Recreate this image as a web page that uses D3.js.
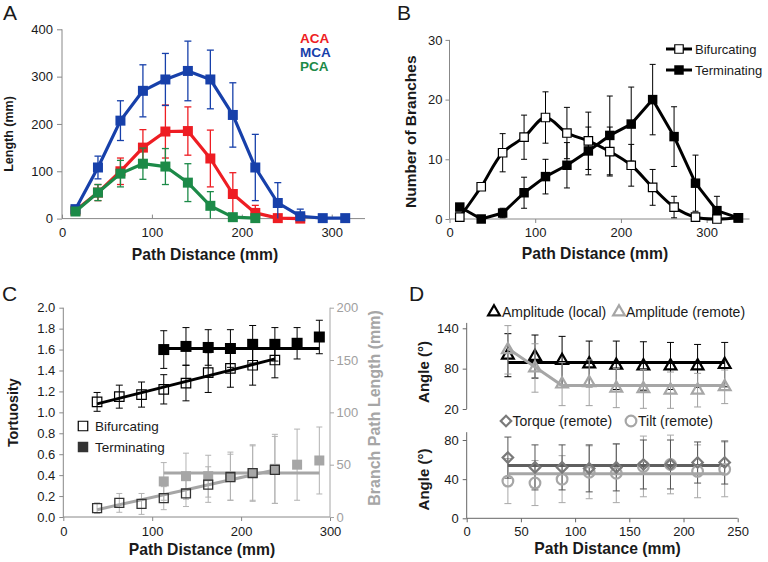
<!DOCTYPE html>
<html><head><meta charset="utf-8">
<script src="https://cdn.jsdelivr.net/npm/d3@7"></script>
<style>
body{margin:0;background:#fff;}
svg text{font-family:'Liberation Sans',Arial,Helvetica,sans-serif;}
</style></head><body>
<svg id="c" width="768" height="562"></svg>
<script>
// ---------- Panel A data ----------
const aX = [15,40,65,90,115,140,165,190,215,240,265,290,315];
const aACA = [17,55,100,150,184,185,127,52,12,1,0];
const aACAsd = [0,17,28,38,56,51,60,45,16,0,0];
const aMCA = [20,108,207,270,294,312,294,219,108,33,5,1,1];
const aMCAsd = [0,24,42,55,55,63,62,68,70,43,15,0,0];
const aPCA = [15,55,95,116,110,76,27,3,1];
const aPCAsd = [0,17,28,33,38,40,30,0,0];
const aTicksX = [0,100,200,300], aTicksY = [0,100,200,300,400];
const aNames = ["ACA","MCA","PCA"];
const aColors = ["#ee1d23","#1740aa","#1c8a48"];
// ---------- Panel B data ----------
const bX = [12,37,62,87,112,137,162,187,212,237,262,287,312,337];
const bBif = [0.3,5.4,11.1,13.7,17,14.4,13.1,11.3,9,5.3,2,0.3,0,0.2];
const bBifSd = [0,0,3.2,3.7,4.3,4.3,4.8,4.1,3.5,3,1.8,0,0,0];
const bTerm = [2,0,1,4.4,7.1,9,11.4,14,15.9,20,13.8,6,1.4,0.2];
const bTermSd = [0,0,0.8,2.6,2.9,3.8,4,6.6,6.2,5.9,5,4.7,2.4,0];
const bTicksX = [0,100,200,300], bTicksY = [0,10,20,30];
// ---------- Panel C data ----------
const cXb = [38,63,88,113,138,163,188,213,238];
const cTortBif = [1.10,1.15,1.17,1.22,1.28,1.38,1.42,1.45,1.50];
const cTortBifSd = [0.09,0.11,0.12,0.14,0.17,0.19,0.18,0.19,0.17];
const cXt = [113,138,163,188,213,238,263,288];
const cTortTerm = [1.60,1.63,1.62,1.61,1.65,1.65,1.66,1.72];
const cTortTermSd = [0.18,0.18,0.17,0.18,0.18,0.16,0.15,0.16];
const cLenBif = [8.5,13.5,12.5,18,22.5,31,38,42,45];
const cLenBifSd = [5,9,10,11,12.5,17,22,26,32];
const cLenTerm = [34,39,39,39,42,46,50,54];
const cLenTermSd = [18,22,20,23,27,33,34,32];
const cFitTortBif = [[38,1.08],[238,1.51]];
const cFitTortTerm = [[113,1.61],[288,1.61]];
const cFitLenBif = [[38,7],[238,45]];
const cFitLenTerm = [[113,42],[288,42]];
const cTicksX = [0,100,200,300];
const cTicksY = [0,0.2,0.4,0.6,0.8,1.0,1.2,1.4,1.6,1.8,2.0];
const cTicksY2 = [0,50,100,150,200];
// ---------- Panel D data ----------
const dX = [38,63,88,113,138,163,188,213,238];
const dAmpLocal = [100,98,92,87,85,84,84,84,86];
const dAmpLocalSd = [32,32,36,34,36,36,35,32,33];
const dAmpRemote = [108,81,57,59,51,50,48,48,53];
const dAmpRemoteSd = [36,36,32,34,29,29,27,25,25];
const dFitLocal = [[38,89],[238,89]];
const dFitRemote = [[38,110],[88,55],[238,55]];
const dTorque = [62,52,52,51,52,55,55,57,57];
const dTorqueSd = [21,23,23,24,24,25,25,21,22];
const dTilt = [38,36,40,47,46,53,55,48,50];
const dTiltSd = [23,23,24,27,30,31,30,27,28];
const dFitTorque = [[38,54],[238,54]];
const dFitTilt = [[38,45.5],[238,45.5]];
const dTicksX = [0,50,100,150,200,250];
const dTicksYu = [20,80,140];
const dTicksYl = [0,40,80];

const svg = d3.select('#c');
const TXT = '#1a1a1a';

function styleAxis(g, lineColor, textColor, size){
  g.select('.domain').remove();
  g.attr('font-family', null).attr('font-size', null);
  g.selectAll('.tick line').attr('stroke', lineColor);
  g.selectAll('.tick text').attr('fill', textColor || TXT).style('font-size', (size||13)+'px');
}
function axisLine(g, x1, y1, x2, y2, color){
  g.append('line').attr('x1',x1).attr('y1',y1).attr('x2',x2).attr('y2',y2)
    .attr('stroke',color).attr('stroke-width',1);
}
function errBars(g, xs, ys, sds, x, y, color, cap, sw){
  const ymin = y.domain()[0];
  xs.forEach((xv,i)=>{
    const sd = sds[i]; if(!sd) return;
    let lo = ys[i]-sd, hi = ys[i]+sd;
    const clipped = lo < ymin; if(clipped) lo = ymin;
    const px = x(xv);
    g.append('line').attr('x1',px).attr('x2',px).attr('y1',y(lo)).attr('y2',y(hi))
      .attr('stroke',color).attr('stroke-width',sw||1);
    g.append('line').attr('x1',px-cap/2).attr('x2',px+cap/2).attr('y1',y(hi)).attr('y2',y(hi))
      .attr('stroke',color).attr('stroke-width',sw||1);
    if(!clipped) g.append('line').attr('x1',px-cap/2).attr('x2',px+cap/2).attr('y1',y(lo)).attr('y2',y(lo))
      .attr('stroke',color).attr('stroke-width',sw||1);
  });
}
function linePath(g, pts, x, y, color, w, curve){
  const ln = d3.line().x(d=>x(d[0])).y(d=>y(d[1])).curve(curve||d3.curveLinear);
  g.append('path').attr('d', ln(pts)).attr('fill','none').attr('stroke',color)
    .attr('stroke-width',w).attr('stroke-linejoin','round');
}
function markers(g, xs, ys, x, y, type, size, fill, stroke, sw, rot){
  const sym = d3.symbol().type(type).size(size);
  xs.forEach((xv,i)=>{
    g.append('path').attr('d', sym())
      .attr('transform',`translate(${x(xv)},${y(ys[i])})${rot?' rotate('+rot+')':''}`)
      .attr('fill',fill).attr('stroke',stroke).attr('stroke-width',sw||0);
  });
}
function label(g, t, x, y, opts){
  const e = g.append('text').attr('x',x).attr('y',y).text(t)
    .attr('fill', opts.fill||TXT).style('font-size',(opts.size||13)+'px')
    .attr('font-weight', opts.bold?'bold':'normal')
    .attr('text-anchor', opts.anchor||'start');
  if(opts.rot!==undefined) e.attr('transform',`rotate(${opts.rot},${x},${y})`);
  return e;
}
const zip = (xs,ys)=>xs.map((v,i)=>[v,ys[i]]);

// ================= Panel A =================
{
  const g = svg.append('g');
  const x = d3.scaleLinear().domain([0,337]).range([62,365]);
  const y = d3.scaleLinear().domain([0,400]).range([218.6,29.3]);
  axisLine(g, x(0), y(0), x(337), y(0), '#888');
  axisLine(g, x(0), y(0), x(0), y(400), '#888');
  g.append('g').attr('transform',`translate(0,${y(0)})`)
    .call(d3.axisBottom(x).tickValues(aTicksX).tickSize(-4).tickPadding(9).tickSizeOuter(0))
    .call(a=>styleAxis(a,'#888'));
  g.append('g').attr('transform',`translate(${x(0)},0)`)
    .call(d3.axisLeft(y).tickValues(aTicksY).tickSize(5).tickPadding(4).tickSizeOuter(0))
    .call(a=>styleAxis(a,'#888'));
  const ser = [[aACA,aACAsd,0],[aMCA,aMCAsd,1],[aPCA,aPCAsd,2]];
  ser.forEach(([v,sd,k])=>{
    const xs = aX.slice(0,v.length);
    errBars(g, xs, v, sd, x, y, aColors[k], 7, 1.3);
    linePath(g, zip(xs,v), x, y, aColors[k], 3.2);
    markers(g, xs, v, x, y, d3.symbolSquare, 100, aColors[k], 'none', 0);
  });
  aNames.forEach((n,k)=>label(g, n, 300, 43+14*k, {fill:aColors[k], bold:true, size:13.5}));
  label(g,'Path Distance (mm)', 205, 260, {bold:true, size:15.7, anchor:'middle'});
  label(g,'Length (mm)', 12.5, 134, {bold:true, size:12.5, anchor:'middle', rot:-90});
  label(g,'A', 3, 20, {size:21});
}

// ================= Panel B =================
{
  const g = svg.append('g');
  const x = d3.scaleLinear().domain([0,350]).range([449.5,749.5]);
  const y = d3.scaleLinear().domain([0,30]).range([219,39.9]);
  axisLine(g, x(0), y(0), x(350), y(0), '#888');
  axisLine(g, x(0), y(0), x(0), y(30), '#888');
  g.append('g').attr('transform',`translate(0,${y(0)})`)
    .call(d3.axisBottom(x).tickValues(bTicksX).tickSize(4).tickPadding(5).tickSizeOuter(0))
    .call(a=>styleAxis(a,'#888'));
  g.append('g').attr('transform',`translate(${x(0)},0)`)
    .call(d3.axisLeft(y).tickValues(bTicksY).tickSize(4).tickPadding(3).tickSizeOuter(0))
    .call(a=>styleAxis(a,'#888'));
  errBars(g, bX, bBif, bBifSd, x, y, '#000', 6, 1);
  errBars(g, bX, bTerm, bTermSd, x, y, '#000', 6, 1);
  linePath(g, zip(bX,bBif), x, y, '#000', 3, d3.curveCatmullRom.alpha(0.5));
  markers(g, bX, bBif, x, y, d3.symbolSquare, 72, '#fff', '#000', 1.2);
  linePath(g, zip(bX,bTerm), x, y, '#000', 3);
  markers(g, bX, bTerm, x, y, d3.symbolSquare, 90, '#000', 'none', 0);
  // legend
  const lg = [['Bifurcating','#fff',1.2,72,53.5],['Terminating','#000',0,90,74.5]];
  lg.forEach(([t,f,sw,sz,by])=>{
    g.append('line').attr('x1',666).attr('x2',692).attr('y1',by-4.5).attr('y2',by-4.5)
      .attr('stroke','#000').attr('stroke-width',3);
    g.append('path').attr('d',d3.symbol().type(d3.symbolSquare).size(sz)())
      .attr('transform',`translate(679,${by-4.5})`).attr('fill',f).attr('stroke','#000').attr('stroke-width',sw);
    label(g, t, 695, by, {size:13});
  });
  label(g,'Path Distance (mm)', 595, 259, {bold:true, size:15.7, anchor:'middle'});
  label(g,'Number of Branches', 416, 131.7, {bold:true, size:15.5, anchor:'middle', rot:-90});
  label(g,'B', 397, 20, {size:21});
}

// ================= Panel C =================
{
  const g = svg.append('g');
  const x = d3.scaleLinear().domain([0,300]).range([63.3,330]);
  const y = d3.scaleLinear().domain([0,2]).range([517,307.7]);
  const y2 = d3.scaleLinear().domain([0,200]).range([517,307.7]);
  const GR = '#a6a6a6';
  axisLine(g, x(0), y(0), x(300), y(0), '#888');
  axisLine(g, x(0), y(0), x(0), y(2), '#888');
  axisLine(g, x(300), y(0), x(300), y(2), GR);
  g.append('g').attr('transform',`translate(0,${y(0)})`)
    .call(d3.axisBottom(x).tickValues(cTicksX).tickSize(4).tickPadding(6).tickSizeOuter(0))
    .call(a=>styleAxis(a,'#888'));
  g.append('g').attr('transform',`translate(${x(0)},0)`)
    .call(d3.axisLeft(y).tickValues(cTicksY).tickFormat(d3.format('.1f')).tickSize(4).tickPadding(4).tickSizeOuter(0))
    .call(a=>styleAxis(a,'#888'));
  g.append('g').attr('transform',`translate(${x(300)},0)`)
    .call(d3.axisRight(y2).tickValues(cTicksY2).tickSize(4).tickPadding(2.5).tickSizeOuter(0))
    .call(a=>styleAxis(a,GR,'#a0a0a0'));
  // grey (branch path length, right axis)
  errBars(g, cXb, cLenBif, cLenBifSd, x, y2, '#b3b3b3', 6, 1);
  errBars(g, cXt, cLenTerm, cLenTermSd, x, y2, '#b3b3b3', 6, 1);
  linePath(g, cFitLenBif, x, y2, GR, 3);
  linePath(g, cFitLenTerm, x, y2, GR, 3);
  markers(g, cXt, cLenTerm, x, y2, d3.symbolSquare, 100, GR, 'none', 0);
  markers(g, cXb, cLenBif, x, y2, d3.symbolSquare, 80, 'none', '#333', 1.3);
  // black (tortuosity, left axis)
  errBars(g, cXb, cTortBif, cTortBifSd, x, y, '#000', 7, 1);
  errBars(g, cXt, cTortTerm, cTortTermSd, x, y, '#000', 7, 1);
  linePath(g, cFitTortBif, x, y, '#000', 2.8);
  linePath(g, cFitTortTerm, x, y, '#000', 2.8);
  markers(g, cXb, cTortBif, x, y, d3.symbolSquare, 90, 'none', '#000', 1.2);
  markers(g, cXt, cTortTerm, x, y, d3.symbolSquare, 121, '#000', 'none', 0);
  // legend
  g.append('path').attr('d',d3.symbol().type(d3.symbolSquare).size(90)()).attr('transform','translate(83,426)')
    .attr('fill','#fff').attr('stroke','#000').attr('stroke-width',1.2);
  label(g,'Bifurcating', 95, 431, {size:13.5});
  g.append('path').attr('d',d3.symbol().type(d3.symbolSquare).size(110)()).attr('transform','translate(83,447)')
    .attr('fill','#333');
  label(g,'Terminating', 95, 452, {size:13.5});
  label(g,'Path Distance (mm)', 202, 555, {bold:true, size:15.7, anchor:'middle'});
  label(g,'Tortuosity', 18.5, 412.7, {bold:true, size:14.3, anchor:'middle', rot:-90});
  label(g,'Branch Path Length (mm)', 380, 408, {bold:true, size:16, anchor:'middle', rot:-90, fill:GR});
  label(g,'C', 2, 301, {size:21});
}

// ================= Panel D =================
{
  const g = svg.append('g');
  const x = d3.scaleLinear().domain([0,250]).range([466.7,737.7]);
  const yu = d3.scaleLinear().domain([20,140]).range([409,328.3]);
  const yl = d3.scaleLinear().domain([0,80]).range([518.3,440]);
  const AX = '#666', GR = '#a6a6a6', DG = '#7a7a7a';
  axisLine(g, x(0), yl(0), x(250), yl(0), AX);
  axisLine(g, x(0), yl(0), x(0), yl(88), AX);
  axisLine(g, x(0), yu(20), x(0), yu(148), AX);
  g.append('g').attr('transform',`translate(0,${yl(0)})`)
    .call(d3.axisBottom(x).tickValues(dTicksX).tickSize(4).tickPadding(4).tickSizeOuter(0))
    .call(a=>styleAxis(a,AX));
  g.append('g').attr('transform',`translate(${x(0)},0)`)
    .call(d3.axisLeft(yu).tickValues(dTicksYu).tickSize(4).tickPadding(4).tickSizeOuter(0))
    .call(a=>styleAxis(a,AX));
  g.append('g').attr('transform',`translate(${x(0)},0)`)
    .call(d3.axisLeft(yl).tickValues(dTicksYl).tickSize(4).tickPadding(4).tickSizeOuter(0))
    .call(a=>styleAxis(a,AX));
  // upper: amplitude
  errBars(g, dX, dAmpLocal, dAmpLocalSd, x, yu, '#000', 7, 1);
  linePath(g, dFitLocal, x, yu, '#000', 3);
  markers(g, dX, dAmpLocal, x, yu, d3.symbolTriangle, 60, 'none', '#000', 2.2);
  errBars(g, dX, dAmpRemote, dAmpRemoteSd, x, yu, '#a0a0a0', 7, 1);
  linePath(g, dFitRemote, x, yu, GR, 3);
  markers(g, dX, dAmpRemote, x, yu, d3.symbolTriangle, 60, 'none', GR, 2.2);
  // lower: torque & tilt
  errBars(g, dX, dTilt, dTiltSd, x, yl, '#a8a8a8', 7, 1);
  errBars(g, dX, dTorque, dTorqueSd, x, yl, '#555', 7, 1);
  linePath(g, dFitTilt, x, yl, GR, 3);
  linePath(g, dFitTorque, x, yl, '#5f5f5f', 3);
  markers(g, dX, dTilt, x, yl, d3.symbolCircle, 90, 'none', GR, 2.2);
  markers(g, dX, dTorque, x, yl, d3.symbolSquare, 55, 'none', DG, 2.2, 45);
  // legends
  const tri = d3.symbol().type(d3.symbolTriangle).size(60)();
  g.append('path').attr('d',tri).attr('transform','translate(494,312)').attr('fill','none').attr('stroke','#000').attr('stroke-width',2.2);
  label(g,'Amplitude (local)', 502, 316.5, {size:14});
  g.append('path').attr('d',tri).attr('transform','translate(619,312)').attr('fill','none').attr('stroke',GR).attr('stroke-width',2.2);
  label(g,'Amplitude (remote)', 626, 316.5, {size:14});
  g.append('path').attr('d',d3.symbol().type(d3.symbolSquare).size(55)()).attr('transform','translate(506,421) rotate(45)')
    .attr('fill','none').attr('stroke',DG).attr('stroke-width',2.2);
  label(g,'Torque (remote)', 512.5, 426, {size:14});
  g.append('path').attr('d',d3.symbol().type(d3.symbolCircle).size(90)()).attr('transform','translate(631,421)')
    .attr('fill','none').attr('stroke',GR).attr('stroke-width',2.2);
  label(g,'Tilt (remote)', 638, 426, {size:14});
  label(g,'Path Distance (mm)', 607.5, 554, {bold:true, size:15.7, anchor:'middle'});
  label(g,'Angle (°)', 429, 372, {bold:true, size:15, anchor:'middle', rot:-90});
  label(g,'Angle (°)', 429, 479.5, {bold:true, size:15, anchor:'middle', rot:-90});
  label(g,'D', 409, 301, {size:21});
}
</script></body></html>
